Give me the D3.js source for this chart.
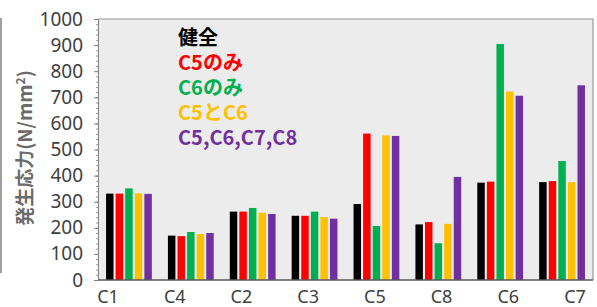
<!DOCTYPE html>
<html>
<head>
<meta charset="utf-8">
<script src="https://cdn.jsdelivr.net/npm/d3@7.9.0/dist/d3.min.js"></script>
<style>
  html, body { margin: 0; padding: 0; background: #fff; }
  svg { display: block; }
</style>
</head>
<body>
<svg id="chart" width="597" height="307"></svg>
<script>
// Data
const groups = ['C1', 'C4', 'C2', 'C3', 'C5', 'C8', 'C6', 'C7'];
const seriesNames = ['健全', 'C5のみ', 'C6のみ', 'C5とC6', 'C5,C6,C7,C8'];
const healthy   = [331, 170, 262, 246, 291, 213, 373, 375];
const c5Only    = [331, 168, 262, 246, 561, 222, 377, 379];
const c6Only    = [351, 184, 276, 262, 207, 141, 904, 456];
const c5AndC6   = [332, 176, 258, 241, 554, 215, 722, 375];
const c5to8     = [330, 180, 253, 235, 552, 395, 706, 746];
const yTicks = [0, 100, 200, 300, 400, 500, 600, 700, 800, 900, 1000];

const seriesValues = [healthy, c5Only, c6Only, c5AndC6, c5to8];
const colors = ['#000000', '#ff0000', '#00b050', '#ffc000', '#7030a0'];

const svg = d3.select('#chart');
const plotL = 98, plotR = 593, plotT = 19, plotB = 280;

// Scales
const x = d3.scaleBand().domain(groups).range([plotL, plotR]).paddingInner(0.26).paddingOuter(0.13);
const xSub = d3.scaleBand().domain(d3.range(seriesNames.length)).range([0, x.bandwidth()]).paddingInner(0.22);
const y = d3.scaleLinear().domain([0, 1000]).range([plotB, plotT]);
// category labels sit slightly left of the groups in the original
const xLabel = d3.scalePoint().domain(groups).range([108, 575]);

// plot background
svg.append('rect')
  .attr('x', plotL).attr('y', plotT)
  .attr('width', plotR - plotL).attr('height', plotB - plotT)
  .attr('fill', '#ececec');

// top + right border
svg.append('path')
  .attr('d', `M${plotL},${plotT}H${plotR}V${plotB}`)
  .attr('fill', 'none')
  .attr('stroke', '#9a9a9a')
  .attr('stroke-width', 1.2);

// bars
seriesValues.forEach((vals, s) => {
  svg.append('g')
    .selectAll('rect')
    .data(vals)
    .join('rect')
    .attr('x', (d, i) => x(groups[i]) + xSub(s))
    .attr('y', d => y(d))
    .attr('width', xSub.bandwidth())
    .attr('height', d => plotB - y(d))
    .attr('fill', colors[s]);
});

// y axis
const yAxis = svg.append('g')
  .attr('transform', `translate(${plotL},0)`)
  .call(d3.axisLeft(y).tickValues(d3.range(0, 1001, 20)).tickSize(2).tickFormat(''));
yAxis.select('.domain').attr('stroke', '#808080');
yAxis.selectAll('.tick line').attr('stroke', '#9a9a9a');

svg.append('g')
  .attr('transform', `translate(${plotL},0)`)
  .call(d3.axisLeft(y).tickValues(yTicks).tickSize(4).tickPadding(11).tickFormat(d3.format('d')))
  .call(g => g.select('.domain').remove())
  .call(g => g.selectAll('.tick line').attr('stroke', '#808080'))
  .call(g => g.selectAll('.tick text')
    .attr('fill', '#404040')
    .attr('font-family', '"Noto Sans", sans-serif')
    .attr('font-size', 19));

// x axis baseline
svg.append('line')
  .attr('x1', plotL).attr('x2', plotR)
  .attr('y1', plotB).attr('y2', plotB)
  .attr('stroke', '#595959').attr('stroke-width', 1.5);

// x labels
svg.append('g')
  .selectAll('text')
  .data(groups)
  .join('text')
  .attr('x', d => xLabel(d))
  .attr('y', 303)
  .attr('text-anchor', 'middle')
  .attr('fill', '#404040')
  .attr('font-family', '"Noto Sans", sans-serif')
  .attr('font-size', 18)
  .text(d => d);

// y title
svg.append('text')
  .attr('transform', 'translate(32,148) rotate(-90)')
  .attr('text-anchor', 'middle')
  .attr('fill', '#6b6b6b')
  .attr('font-family', '"Noto Sans CJK JP", sans-serif')
  .attr('font-weight', 'bold')
  .attr('font-size', 19)
  .html('発生応力(N/mm<tspan dy="-7" font-size="12">2</tspan><tspan dy="7">)</tspan>');

// left frame line
svg.append('line')
  .attr('x1', 1).attr('x2', 1)
  .attr('y1', 18).attr('y2', 273)
  .attr('stroke', '#a0a0a0').attr('stroke-width', 2);

// legend
svg.append('g')
  .selectAll('text')
  .data(seriesNames)
  .join('text')
  .attr('x', 178)
  .attr('y', (d, i) => 45 + i * 25)
  .attr('fill', (d, i) => i === 0 ? '#000' : colors[i])
  .attr('font-family', '"Noto Sans CJK JP", sans-serif')
  .attr('font-weight', 'bold')
  .attr('font-size', 20)
  .text(d => d);
</script>
</body>
</html>
